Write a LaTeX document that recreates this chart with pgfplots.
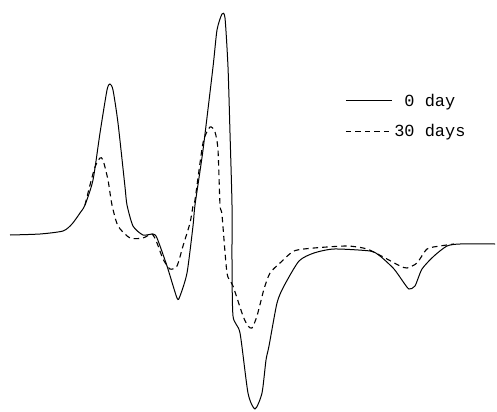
\documentclass[border=0pt]{standalone}
\usepackage{pgfplots}
\pgfplotsset{compat=1.18}
\usepackage{fontspec}
\setmonofont{Liberation Mono}
\begin{document}
\begin{tikzpicture}
\begin{axis}[hide axis, scale only axis, width=497bp, height=412bp,
  xmin=0, xmax=497, ymin=0, ymax=412, y dir=reverse, clip=false,
  legend style={at={(axis cs:345,116)}, anchor=west, draw=none, fill=none,
    font=\ttfamily\fontsize{17}{17}\selectfont, inner sep=0pt, row sep=13bp,
    /tikz/every even column/.append style={column sep=2bp}},
  legend cell align=left,
  legend image code/.code={\draw[#1] (0bp,0bp) -- (46bp,0bp);}]
\addplot[black, line width=1bp, smooth, tension=0.4] coordinates {
(10,235) (40,234) (63,231) (72,224) (80,213) (85,205) (93,180) (100,133) (107,90) (110,84) (113,90)
(118,123) (125,187) (127,205) (133,226) (143,235) (153,234) (157,238) (167,266) (177,298) (180,296)
(187,273) (193,226) (195,205) (203,150) (213,67) (217,30) (222,14) (225,18) (228,67) (230,133)
(232,205) (232,260) (233,316) (240,333) (248,393) (255,409) (262,393) (266,360) (269,346) (277,303) (284,286)
(299,261) (314,253) (334,249) (370,251) (380,256) (394,269) (404,283) (409,289) (415,286)
(422,269) (434,256) (447,246) (460,244) (495,244)};
\addlegendentry{\phantom{3}0 day}
\addplot[black, line width=1.1bp, dash pattern=on 5.5bp off 4bp, smooth, tension=0.4] coordinates {
(85,205) (90,185) (95,167) (100,158) (103,160) (108,180) (112,205) (118,226) (130,238) (143,238)
(152,234) (157,243) (163,259) (170,269) (177,266) (183,246) (190,223) (193,206) (195,200) (203,143)
(210,127) (215,132) (218,150) (220,205) (222,215) (227,273) (233,286) (243,316) (248,326) (252,328)
(257,316) (264,289) (270,273) (280,263) (294,251) (314,248) (347,246) (367,249) (387,259) (400,266)
(407,268) (417,263) (427,249) (440,246) (454,244)};
\addlegendentry{30 days}
\end{axis}
\pgfresetboundingbox
\path (current axis.south west) rectangle (current axis.north east);
\end{tikzpicture}
\end{document}
